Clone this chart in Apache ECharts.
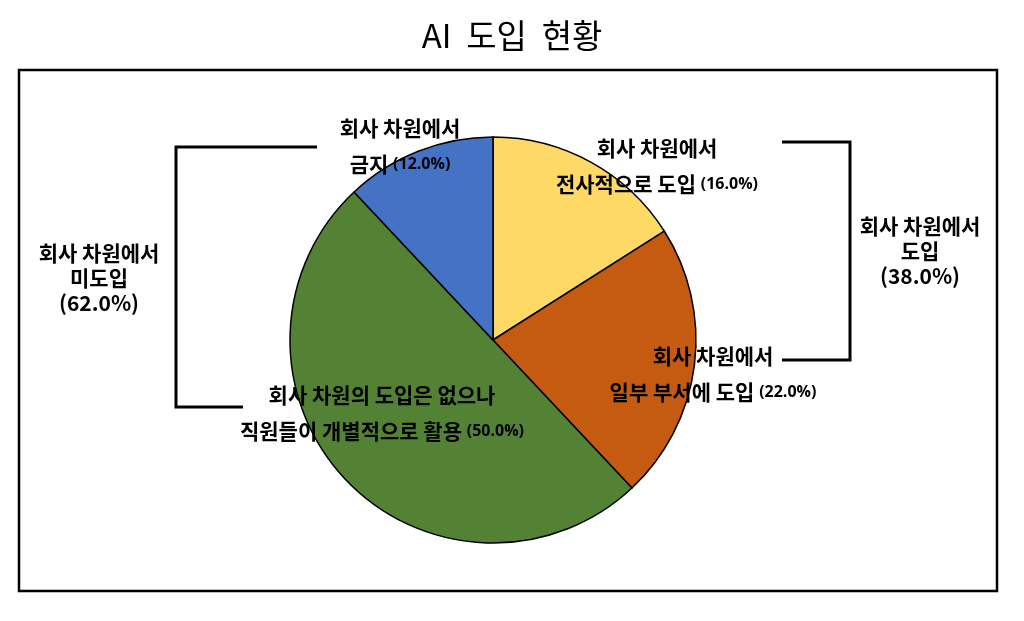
<!DOCTYPE html>
<html>
<head>
<meta charset="utf-8">
<title>AI 도입 현황</title>
<script src="https://cdn.jsdelivr.net/npm/echarts@6/dist/echarts.min.js"></script>
<style>
  html, body { margin: 0; padding: 0; background: #fff; }
  #container { width: 1024px; height: 621px; }
</style>
</head>
<body>
<div id="container"></div>
<script type="text/javascript">
    // 데이터 (시계 방향, 12시부터)
    var line1 = ['회사 차원에서', '회사 차원에서', '회사 차원의 도입은 없으나', '회사 차원에서'];
    var line2 = ['전사적으로 도입', '일부 부서에 도입', '직원들이 개별적으로 활용', '금지'];
    var values = [16.0, 22.0, 50.0, 12.0];
    var colors = ['#FFD966', '#C55A11', '#548235', '#4472C4'];

    // 그룹 (도입 / 미도입)
    var groupNames = ['회사 차원에서\n도입', '회사 차원에서\n미도입'];
    var groupMembers = [[0, 1], [2, 3]];

    // 라벨 위치
    var labelPos = [[657, 166], [713, 374], [382, 413], [400, 146]];

    var FONT = '"Noto Sans CJK KR", "Noto Sans", sans-serif';

    var mychart = echarts.init(document.getElementById('container'));

    var pieData = [];
    for (var i = 0; i < values.length; i++) {
        pieData.push({
            name: line1[i] + '\n' + line2[i],
            value: values[i],
            itemStyle: { color: colors[i] }
        });
    }

    function groupSum(k) {
        var s = 0;
        for (var j = 0; j < groupMembers[k].length; j++) s += values[groupMembers[k][j]];
        return s;
    }

    var options = {
        backgroundColor: '#fff',
        animation: false,
        title: {
            text: 'AI  도입  현황',
            left: 'center',
            top: 14,
            textStyle: { fontFamily: FONT, fontSize: 33, fontWeight: 'normal', color: '#000' }
        },
        graphic: [
            { type: 'rect', shape: { x: 19, y: 70, width: 978, height: 521 },
              style: { fill: 'none', stroke: '#000', lineWidth: 2.5 } },
            // 왼쪽 괄호
            { type: 'polyline', shape: { points: [[317, 147], [176, 147], [176, 407], [243, 407]] },
              style: { fill: 'none', stroke: '#000', lineWidth: 3 } },
            // 오른쪽 괄호
            { type: 'polyline', shape: { points: [[782, 142], [850, 142], [850, 360], [782, 360]] },
              style: { fill: 'none', stroke: '#000', lineWidth: 3 } },
            { type: 'text', x: 99, y: 278,
              style: { text: groupNames[1] + '\n(' + groupSum(1).toFixed(1) + '%)',
                       fontFamily: FONT, fontSize: 21, fontWeight: 'bold', fill: '#000',
                       align: 'center', verticalAlign: 'middle', lineHeight: 25 } },
            { type: 'text', x: 920, y: 251,
              style: { text: groupNames[0] + '\n(' + groupSum(0).toFixed(1) + '%)',
                       fontFamily: FONT, fontSize: 21, fontWeight: 'bold', fill: '#000',
                       align: 'center', verticalAlign: 'middle', lineHeight: 25 } }
        ],
        series: [{
            type: 'pie',
            center: [493, 340],
            radius: 203,
            startAngle: 90,
            clockwise: true,
            silent: true,
            itemStyle: { borderColor: '#000', borderWidth: 1.5 },
            label: {
                show: true,
                position: 'inside',
                formatter: function (p) {
                    var idx = p.dataIndex;
                    return '{a|' + line1[idx] + '}\n{a|' + line2[idx] + ' }{p|(' + p.value.toFixed(1) + '%)}';
                },
                rich: {
                    a: { fontFamily: FONT, fontSize: 21, fontWeight: 'bold', color: '#000', lineHeight: 36 },
                    p: { fontFamily: '"Open Sans", sans-serif', fontSize: 16, fontWeight: 'bold', color: '#000', lineHeight: 36 }
                }
            },
            labelLine: { show: false },
            labelLayout: function (params) {
                var pos = labelPos[params.dataIndex];
                return { x: pos[0], y: pos[1], align: 'center', verticalAlign: 'middle', hideOverlap: false };
            },
            data: pieData
        }]
    };

    mychart.setOption(options);
</script>
</body>
</html>
